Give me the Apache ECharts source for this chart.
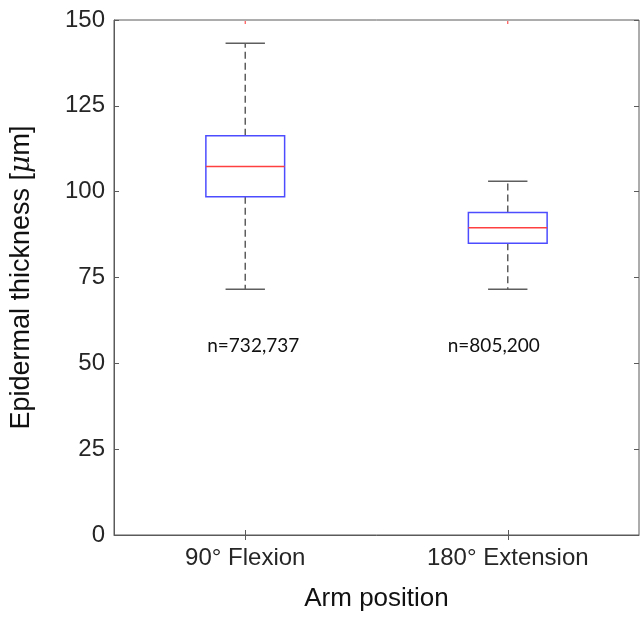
<!DOCTYPE html>
<html>
<head>
<meta charset="utf-8">
<script src="https://cdn.jsdelivr.net/npm/echarts@6/dist/echarts.min.js"></script>
<style>
html,body{margin:0;padding:0;background:#fff;}
#chart{width:641px;height:617px;}
</style>
</head>
<body>
<div id="chart"></div>
<script>
// ---- data ----
var categories = ['90\u00b0 Flexion', '180\u00b0 Extension'];
var lowerWhisker = [71.6, 71.6];
var q1 = [98.5, 85.0];
var median = [107.3, 89.5];
var q3 = [116.3, 93.9];
var upperWhisker = [143.2, 103.0];
var outliersClipped = [150, 150];       // outliers above the axis maximum (only a sliver shows)
var nLabels = ['n=732,737', 'n=805,200'];
var nLabelLevel = [55, 55];
var yTicks = [0, 25, 50, 75, 100, 125, 150];

var boxData = categories.map(function (c, i) {
  return [i, lowerWhisker[i], q1[i], median[i], q3[i], upperWhisker[i], outliersClipped[i], nLabelLevel[i]];
});

var chart = echarts.init(document.getElementById('chart'), null, {renderer: 'canvas'});
var axisColor = '#5a5a5a';
var textColor = '#262626';
var labelShift = [8, -14];
var fontMain = '"Liberation Sans", Arial, sans-serif';

function renderBox(params, api) {
  var idx = api.value(0);
  var band = api.size([1, 0])[0];
  var boxW = band * 0.3;
  var capW = band * 0.15;
  var pLow = api.coord([idx, api.value(1)]);
  var pQ1 = api.coord([idx, api.value(2)]);
  var pMed = api.coord([idx, api.value(3)]);
  var pQ3 = api.coord([idx, api.value(4)]);
  var pHigh = api.coord([idx, api.value(5)]);
  var pOut = api.coord([idx, api.value(6)]);
  var pTxt = api.coord([idx, api.value(7)]);
  var x = pMed[0];
  var dashStyle = {stroke: '#5e5e5e', lineWidth: 1.5, lineDash: [7, 4]};
  var capStyle = {stroke: '#5e5e5e', lineWidth: 1.5};
  return {
    type: 'group',
    children: [
      {type: 'line', shape: {x1: x, y1: pQ3[1], x2: x, y2: pHigh[1]}, style: dashStyle},
      {type: 'line', shape: {x1: x, y1: pQ1[1], x2: x, y2: pLow[1]}, style: dashStyle},
      {type: 'line', shape: {x1: x - capW / 2, y1: pHigh[1], x2: x + capW / 2, y2: pHigh[1]}, style: capStyle},
      {type: 'line', shape: {x1: x - capW / 2, y1: pLow[1], x2: x + capW / 2, y2: pLow[1]}, style: capStyle},
      {type: 'rect', shape: {x: x - boxW / 2, y: pQ3[1], width: boxW, height: pQ1[1] - pQ3[1]},
        style: {fill: 'none', stroke: '#4d4dff', lineWidth: 1.5}},
      {type: 'line', shape: {x1: x - boxW / 2, y1: pMed[1], x2: x + boxW / 2, y2: pMed[1]},
        style: {stroke: '#ff4040', lineWidth: 1.5}},
      {type: 'line', shape: {x1: x, y1: pOut[1] + 1, x2: x, y2: pOut[1] + 4},
        style: {stroke: '#ff5050', lineWidth: 1.2}},
      {type: 'text', x: pTxt[0] + labelShift[idx], y: pTxt[1],
        style: {text: nLabels[idx], fill: '#111', font: '19px Lato, "Open Sans", sans-serif',
          textAlign: 'center', textVerticalAlign: 'middle'}}
    ]
  };
}

var option = {
  animation: false,
  backgroundColor: '#fff',
  grid: {left: 106, right: 2, top: 20, bottom: 66, show: true, borderColor: axisColor, borderWidth: 1, containLabel: false},
  xAxis: [{
    type: 'category',
    data: categories,
    position: 'bottom',
    boundaryGap: true,
    axisLine: {show: true, lineStyle: {color: axisColor, width: 1}},
    axisTick: {show: true, inside: true, alignWithLabel: true, length: 5, lineStyle: {color: axisColor}},
    axisLabel: {color: textColor, fontSize: 24, fontFamily: fontMain, margin: 11},
    splitLine: {show: false},
    name: 'Arm position',
    nameLocation: 'middle',
    nameGap: 51,
    nameTextStyle: {color: '#111', fontSize: 26, fontFamily: fontMain}
  }, {
    type: 'category',
    data: categories,
    position: 'top',
    boundaryGap: true,
    axisLine: {show: false},
    axisTick: {show: true, inside: true, alignWithLabel: true, length: 5, lineStyle: {color: axisColor}},
    axisLabel: {show: false},
    splitLine: {show: false}
  }],
  yAxis: [{
    type: 'value',
    min: 0, max: 150, interval: 25,
    position: 'left',
    axisLine: {show: true, lineStyle: {color: axisColor, width: 1}},
    axisTick: {show: true, inside: true, length: 5, lineStyle: {color: axisColor}},
    axisLabel: {color: textColor, fontSize: 24, fontFamily: fontMain, margin: 9,
      formatter: function (v) { return yTicks.indexOf(v) >= 0 ? String(v) : ''; }},
    splitLine: {show: false},
    name: 'Epidermal thickness [{mu|\u03bc}m]',
    nameLocation: 'middle',
    nameGap: 79,
    nameTextStyle: {color: '#111', fontSize: 27, fontFamily: fontMain,
      rich: {mu: {fontSize: 27, fontStyle: 'italic', fontFamily: '"DejaVu Serif", serif', color: '#111'}}}
  }, {
    type: 'value',
    min: 0, max: 150, interval: 25,
    position: 'right',
    axisLine: {show: false},
    axisTick: {show: true, inside: true, length: 5, lineStyle: {color: axisColor}},
    axisLabel: {show: false},
    splitLine: {show: false}
  }],
  series: [{
    type: 'custom',
    xAxisIndex: 0,
    yAxisIndex: 0,
    renderItem: renderBox,
    data: boxData,
    clip: false
  }]
};
chart.setOption(option);
</script>
</body>
</html>
